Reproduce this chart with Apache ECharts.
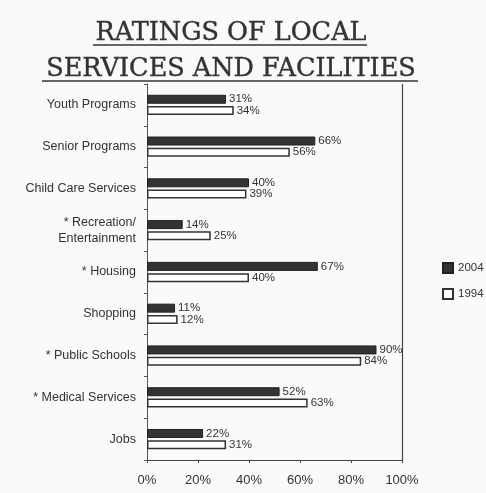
<!DOCTYPE html>
<html><head><meta charset="utf-8">
<script src="https://cdn.jsdelivr.net/npm/echarts@6/dist/echarts.min.js"></script>
<style>html,body{margin:0;padding:0;background:#fafafa}#c{width:486px;height:493px}</style>
</head><body><div id="c"></div>
<script>
const categories = ['Youth Programs','Senior Programs','Child Care Services','* Recreation/\nEntertainment','* Housing','Shopping','* Public Schools','* Medical Services','Jobs'];
const values2004 = [31,66,40,14,67,11,90,52,22];
const values1994 = [34,56,39,25,40,12,84,63,31];
const xTicks = [0,20,40,60,80,100];

const chart = echarts.init(document.getElementById('c'));
const lblStyle = {show:true, position:'right', distance:3, formatter:'{c}%', fontFamily:'Liberation Sans, Arial', fontSize:11.5, color:'#333'};
chart.setOption({
  backgroundColor:'#fafafa',
  animation:false,
  title:{
    text:'RATINGS OF LOCAL\nSERVICES AND FACILITIES',
    left:226, top:10, textAlign:'center',
    textStyle:{fontFamily:'DejaVu Serif', fontWeight:'normal', fontSize:25.5, lineHeight:36, color:'#333',
      textBorderColor:'#333', textBorderWidth:0.4}
  },
  graphic:[
    {type:'line', shape:{x1:93,y1:45,x2:367,y2:45}, style:{stroke:'#333', lineWidth:1.6}},
    {type:'line', shape:{x1:42,y1:81,x2:418,y2:81}, style:{stroke:'#333', lineWidth:1.6}}
  ],
  legend:{
    orient:'vertical', left:437, top:257, itemWidth:10, itemHeight:10, itemGap:14,
    icon:'rect', data:['2004','1994'],
    textStyle:{fontFamily:'Liberation Sans, Arial', fontSize:11.5, color:'#333'}
  },
  grid:{left:147, right:84, top:84, bottom:33},
  xAxis:{
    type:'value', min:0, max:100, interval:20,
    axisLine:{show:true, lineStyle:{color:'#444', width:1.2}},
    axisTick:{show:true, length:3, lineStyle:{color:'#444'}},
    splitLine:{show:false},
    axisLabel:{formatter:v=>xTicks.includes(v)?v+'%':'', fontFamily:'Liberation Sans, Arial', fontSize:13, color:'#333', margin:14}
  },
  yAxis:{
    type:'category', data:categories, inverse:true,
    axisLine:{show:true, lineStyle:{color:'#555', width:1}},
    axisTick:{show:true, length:3, lineStyle:{color:'#555'}},
    axisLabel:{fontFamily:'Liberation Sans, Arial', fontSize:12.5, color:'#333', margin:11, lineHeight:16}
  },
  series:[
    {name:'2004', type:'bar', data:values2004, barWidth:9, barGap:'25%',
     itemStyle:{color:'#333', borderColor:'#222', borderWidth:1},
     label:lblStyle,
     markLine:{silent:true, symbol:'none', label:{show:false}, lineStyle:{color:'#444', type:'solid', width:1.2}, data:[{xAxis:100}]}
    },
    {name:'1994', type:'bar', data:values1994, barWidth:9,
     itemStyle:{color:'#fff', borderColor:'#333', borderWidth:1.5},
     label:lblStyle}
  ]
});
</script></body></html>
